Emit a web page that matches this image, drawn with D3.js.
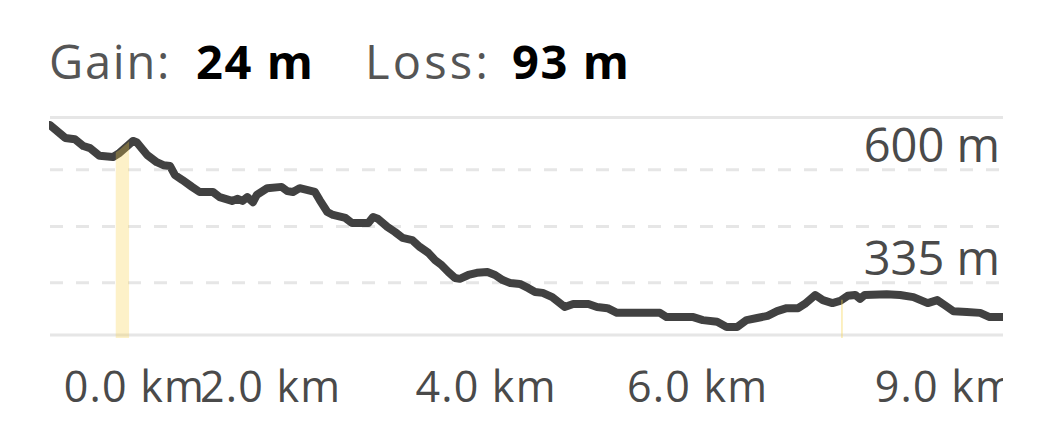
<!DOCTYPE html>
<html>
<head>
<meta charset="utf-8">
<script src="https://cdn.jsdelivr.net/npm/d3@7/dist/d3.min.js"></script>
<style>
  html, body { margin: 0; padding: 0; background: #ffffff; }
  svg { display: block; }
  text { font-family: "Open Sans", "DejaVu Sans", sans-serif; }
</style>
</head>
<body>
<svg id="chart" width="1040" height="440"></svg>
<script>
// ---- data ----
const distanceKm = [0, 0.16, 0.26, 0.35, 0.42, 0.52, 0.66, 0.73, 0.82, 0.87, 0.91, 1.02, 1.12, 1.19, 1.26, 1.31, 1.39, 1.49, 1.57, 1.71, 1.78, 1.91, 1.97, 2.02, 2.07, 2.13, 2.17, 2.28, 2.43, 2.49, 2.55, 2.62, 2.78, 2.83, 2.91, 2.97, 3.10, 3.17, 3.34, 3.39, 3.44, 3.54, 3.62, 3.70, 3.80, 3.88, 3.97, 4.04, 4.11, 4.18, 4.25, 4.30, 4.39, 4.48, 4.59, 4.67, 4.75, 4.83, 4.93, 5.02, 5.09, 5.17, 5.27, 5.35, 5.40, 5.49, 5.65, 5.74, 5.85, 5.95, 6.40, 6.47, 6.75, 6.85, 7.00, 7.10, 7.21, 7.31, 7.42, 7.53, 7.63, 7.73, 7.85, 7.92, 8.03, 8.11, 8.21, 8.29, 8.37, 8.45, 8.50, 8.55, 8.78, 8.92, 9.06, 9.21, 9.31, 9.39, 9.48, 9.62, 9.76, 9.86, 10.0];
const elevationM = [705, 675, 672, 656, 651, 633, 630, 640, 658, 668, 665, 635, 618, 611, 609, 588, 576, 560, 548, 548, 536, 527, 532, 527, 536, 524, 541, 557, 560, 550, 548, 557, 548, 529, 501, 494, 487, 475, 475, 489, 485, 466, 454, 440, 435, 419, 405, 388, 376, 360, 346, 344, 353, 358, 360, 353, 341, 334, 332, 322, 313, 311, 301, 287, 278, 285, 285, 278, 275, 264, 264, 254, 254, 247, 243, 231, 231, 247, 252, 257, 268, 275, 275, 285, 306, 294, 287, 292, 304, 306, 297, 306, 308, 306, 301, 287, 294, 282, 268, 266, 264, 254, 254];

const solidGrid = [212, 723];          // chart frame lines (m)
const dashedGrid = [600, 467, 335];    // dashed grid lines (m)
const yLabelValues = [600, 335];
const yLabels = ["600 m", "335 m"];

const xTickValues = [0.88, 2.31, 4.57, 6.79, 9.39];
const xTickLabels = ["0.0 km", "2.0 km", "4.0 km", "6.0 km", "9.0 km"];

const bandRange = [0.69, 0.83];   // highlighted stretch (km)
const markerKm = [8.31];          // thin highlight marker (km)

const gainLabel = "Gain:", gainValue = "24 m";
const lossLabel = "Loss:", lossValue = "93 m";

// ---- layout ----
const svg = d3.select("#chart");
const x = d3.scaleLinear().domain([0, 10]).range([50, 1003]);
const y = d3.scaleLinear().domain([212, 723]).range([335, 117.5]);

const pts = distanceKm.map((d, i) => ({ d: d, e: elevationM[i] }));

// header
const header = svg.append("text").attr("y", 79).attr("font-size", 47);
header.append("tspan").attr("x", 49).attr("fill", "#555555").attr("letter-spacing", 1.75).text(gainLabel);
header.append("tspan").attr("x", 196).attr("fill", "#000000").attr("font-weight", 700).attr("letter-spacing", 1.6).text(gainValue);
header.append("tspan").attr("x", 365).attr("fill", "#555555").attr("letter-spacing", 3.2).text(lossLabel);
header.append("tspan").attr("x", 512).attr("fill", "#000000").attr("font-weight", 700).attr("letter-spacing", 1.6).text(lossValue);

// grid
svg.append("g").selectAll("line").data(solidGrid).join("line")
  .attr("x1", x(0)).attr("x2", x(10))
  .attr("y1", d => y(d)).attr("y2", d => y(d))
  .attr("stroke", "#e6e6e6").attr("stroke-width", 3);
svg.append("g").selectAll("line").data(dashedGrid).join("line")
  .attr("x1", x(0)).attr("x2", x(10))
  .attr("y1", d => y(d)).attr("y2", d => y(d))
  .attr("stroke", "#e6e6e6").attr("stroke-width", 3)
  .attr("stroke-dasharray", "13,13");

// y labels
svg.append("g").selectAll("text").data(yLabelValues).join("text")
  .attr("x", 1000).attr("y", d => y(d) - 8)
  .attr("text-anchor", "end").attr("font-size", 47).attr("fill", "#4a4a4a")
  .text((d, i) => yLabels[i]);

// plot clip
svg.append("clipPath").attr("id", "plotClip").append("rect")
  .attr("x", x(0) - 1).attr("width", x(10) - x(0) + 1)
  .attr("y", 0).attr("height", 440);

// elevation line
const line = d3.line().x(p => x(p.d)).y(p => y(p.e)).curve(d3.curveLinear);
svg.append("path").datum(pts)
  .attr("clip-path", "url(#plotClip)")
  .attr("d", line).attr("fill", "none")
  .attr("stroke", "#414141").attr("stroke-width", 8)
  .attr("stroke-linejoin", "round").attr("stroke-linecap", "round");

// highlight band
svg.append("clipPath").attr("id", "bandClip").append("rect")
  .attr("x", x(bandRange[0])).attr("width", x(bandRange[1]) - x(bandRange[0]))
  .attr("y", 0).attr("height", 440);
const area = d3.area().x(p => x(p.d)).y0(y(212) + 3).y1(p => y(p.e) - 3);
svg.append("path").datum(pts).attr("d", area)
  .attr("clip-path", "url(#bandClip)")
  .attr("fill", "#f7d24a").attr("opacity", 0.3);

// thin marker
const interp = km => {
  const i = d3.bisector(p => p.d).right(pts, km);
  const a = pts[i - 1], b = pts[i];
  return a.e + (b.e - a.e) * (km - a.d) / (b.d - a.d);
};
svg.append("g").selectAll("line").data(markerKm).join("line")
  .attr("x1", d => x(d)).attr("x2", d => x(d))
  .attr("y1", d => y(interp(d))).attr("y2", y(212) + 3)
  .attr("stroke", "#f7d24a").attr("stroke-opacity", 0.45).attr("stroke-width", 1.5);

// x labels
svg.append("clipPath").attr("id", "xClip").append("rect")
  .attr("x", 0).attr("y", 340).attr("width", x(10)).attr("height", 100);
const xAxis = d3.axisBottom(x).tickValues(xTickValues)
  .tickFormat((d, i) => xTickLabels[i]).tickSize(0).tickPadding(0);
const gx = svg.append("g").attr("clip-path", "url(#xClip)")
  .append("g").attr("transform", "translate(0,402)").call(xAxis);
gx.select(".domain").remove();
gx.selectAll("text")
  .attr("dy", 0).attr("y", 0)
  .attr("font-family", "'Open Sans', sans-serif")
  .attr("letter-spacing", 1.2)
  .attr("font-size", 43).attr("fill", "#4a4a4a");
</script>
</body>
</html>
